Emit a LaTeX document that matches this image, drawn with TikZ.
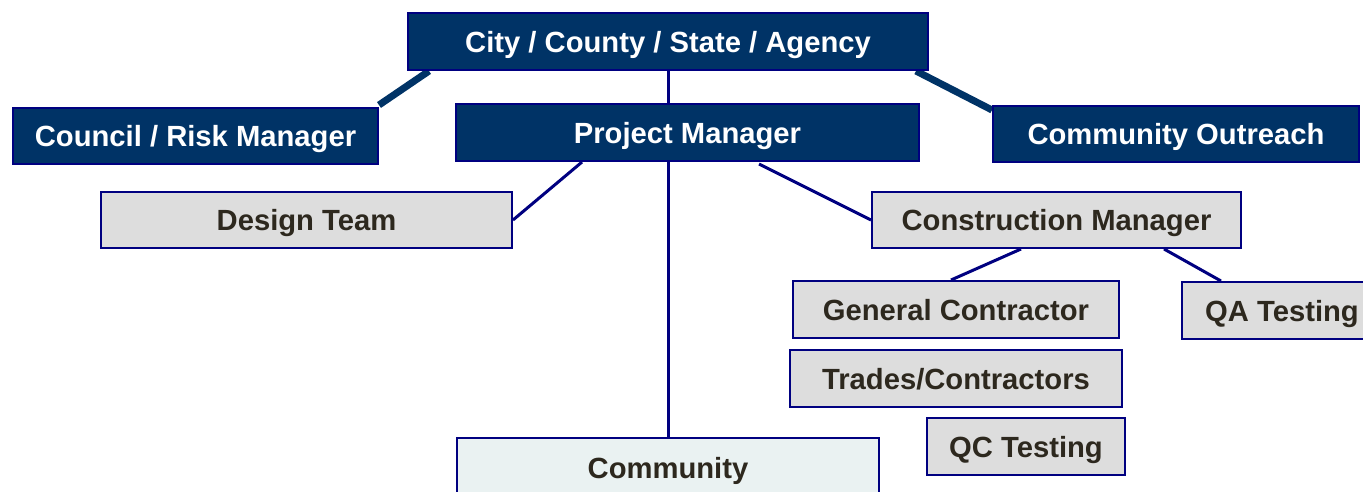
\documentclass[tikz,border=0pt]{standalone}
\usepackage{fontspec}
\setmainfont{Liberation Sans}
\usetikzlibrary{calc,backgrounds}
\definecolor{navyfill}{RGB}{0,51,102}
\definecolor{navyline}{RGB}{0,0,128}
\definecolor{grayfill}{RGB}{221,221,221}
\definecolor{commfill}{RGB}{234,242,242}
\definecolor{darktext}{RGB}{45,40,30}
\tikzset{
  base/.style={draw=navyline, line width=2pt, inner sep=0pt, text height=21pt, text depth=0pt, font=\fontsize{29.2}{29}\selectfont\bfseries},
  darkbox/.style={base, fill=navyfill, text=white},
  graybox/.style={base, fill=grayfill, text=darktext},
  commbox/.style={base, fill=commfill, text=darktext},
  thinlink/.style={draw=navyline, line width=3pt},
  thicklink/.style={draw=navyfill, line width=7pt},
}
\begin{document}
\begin{tikzpicture}[x=1pt,y=-1pt]
\useasboundingbox (0,0) rectangle (1363,491);
\clip (0,0) rectangle (1363,491);
\node[darkbox, minimum width=520pt, minimum height=57pt] (city) at (668,41.5) {City / County / State / Agency};
\node[darkbox, minimum width=365pt, minimum height=56pt] (council) at (195.5,136) {Council / Risk Manager};
\node[darkbox, minimum width=463pt, minimum height=57pt] (pm) at (687.5,132.5) {Project Manager};
\node[darkbox, minimum width=366pt, minimum height=56pt] (co) at (1176,134) {Community Outreach};
\node[graybox, minimum width=411pt, minimum height=56pt] (design) at (306.5,220) {Design Team};
\node[graybox, minimum width=369pt, minimum height=56pt] (cm) at (1056.5,220) {Construction Manager};
\node[graybox, minimum width=326pt, minimum height=57pt] (gc) at (956,309.5) {General Contractor};
\node[graybox, minimum width=200pt, minimum height=57pt] (qa) at (1282,310.5) {QA Testing};
\node[graybox, minimum width=332pt, minimum height=57pt] (trades) at (956,378.5) {Trades/Contractors};
\node[graybox, minimum width=198pt, minimum height=57pt] (qc) at (1026,446.5) {QC Testing};
\node[commbox, minimum width=422pt, minimum height=60pt] (community) at (668,468) {Community};
\begin{scope}[on background layer]
\draw[thicklink] ($(city.south west)+(22,0)$) -- ($(council.north east)+(0,-2)$);
\draw[thicklink] ($(city.south east)+(-13,0)$) -- ($(co.north west)+(0,5)$);
\draw[thinlink] (city.south) -- (city.south |- pm.north);
\draw[thinlink] (city.south |- pm.south) -- (community.north);
\draw[thinlink] ($(pm.south west)+(127,0)$) -- (design.east);
\draw[thinlink] ($(pm.south west)+(304,2)$) -- (cm.west);
\draw[thinlink] ($(cm.south west)+(150,0)$) -- ($(gc.north west)+(159,0)$);
\draw[thinlink] ($(cm.south west)+(293,0)$) -- ($(qa.north west)+(40,0)$);
\end{scope}
\end{tikzpicture}
\end{document}
